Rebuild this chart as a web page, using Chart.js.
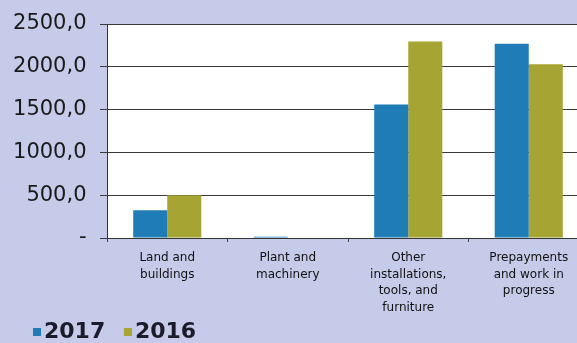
<!DOCTYPE html>
<html>
<head>
<meta charset="utf-8">
<script src="https://cdn.jsdelivr.net/npm/chart.js@4.4.0/dist/chart.umd.min.js"></script>
<style>
html,body{margin:0;padding:0;overflow:hidden;background:#c6cbe9;}
#wrap{width:600px;height:353px;}
</style>
</head>
<body>
<div id="wrap"><canvas id="c" width="600" height="353"></canvas></div>
<script>
const categories = [
  ['Land and','buildings'],
  ['Plant and','machinery'],
  ['Other','installations,','tools, and','furniture'],
  ['Prepayments','and work in','progress']
];
const series2017 = [325, 15, 1560, 2270];
const series2016 = [500, 0, 2295, 2030];
const seriesNames = ['2017', '2016'];
const seriesColors = ['#1f7cb6', '#a6a432'];
const yTickValues = [0, 500, 1000, 1500, 2000, 2500];
const yTickLabels = ['-', '500,0', '1000,0', '1500,0', '2000,0', '2500,0'];

function makeSwatch(color) {
  const cv = document.createElement('canvas');
  cv.width = 17; cv.height = 8;
  const g = cv.getContext('2d');
  g.fillStyle = color;
  g.fillRect(9, 0, 8, 8);
  return cv;
}
const swatches = seriesColors.map(makeSwatch);

const plotBg = {
  id: 'plotBg',
  afterLayout(chart) {
    if (chart.legend) { chart.legend.left += 10; }
  },
  beforeDraw(chart) {
    const {ctx, chartArea: a} = chart;
    ctx.save();
    ctx.fillStyle = '#ffffff';
    ctx.fillRect(a.left, a.top, a.right - a.left, a.bottom - a.top);
    ctx.restore();
  }
};

new Chart(document.getElementById('c'), {
  type: 'bar',
  data: {
    labels: categories,
    datasets: [
      { label: seriesNames[0], data: series2017, backgroundColor: seriesColors[0], borderWidth: 0 },
      { label: seriesNames[1], data: series2016, backgroundColor: seriesColors[1], borderWidth: 0 }
    ]
  },
  options: {
    responsive: false,
    animation: false,
    devicePixelRatio: 1,
    layout: { padding: { left: 12, right: 11, top: 20, bottom: 0 } },
    datasets: { bar: { categoryPercentage: 0.565, barPercentage: 1 } },
    plugins: {
      tooltip: { enabled: false },
      legend: {
        position: 'bottom',
        align: 'start',
        labels: {
          usePointStyle: true,
          boxWidth: 1,
          boxHeight: 8,
          padding: 10,
          color: '#1b1b2a',
          font: { family: 'DejaVu Sans', size: 22, weight: 'bold' },
          generateLabels(ch) {
            const items = Chart.defaults.plugins.legend.labels.generateLabels(ch);
            items.forEach((it, i) => {
              it.text = it.text + '\u00a0';
              it.pointStyle = swatches[i];
              it.lineWidth = 0;
            });
            return items;
          }
        }
      }
    },
    scales: {
      x: {
        offset: true,
        border: { display: true, color: '#333', width: 1 },
        grid: { display: true, drawOnChartArea: false, drawTicks: true, tickLength: 4, color: '#444', offset: true },
        ticks: {
          padding: 8,
          color: '#111',
          maxRotation: 0,
          autoSkip: false,
          font: { family: 'DejaVu Sans', size: 12, lineHeight: 1.375 }
        },
        afterFit(scale) { scale.height = 73; }
      },
      y: {
        min: 0,
        max: 2500,
        afterBuildTicks(scale) { scale.ticks = yTickValues.map(v => ({ value: v })); },
        border: { display: true, color: '#333', width: 1 },
        grid: { color: '#3a3a3a', lineWidth: 1, tickLength: 7 },
        ticks: {
          padding: 13.5,
          color: '#1a1a1a',
          font: { family: 'DejaVu Sans', size: 21, lineHeight: 1 },
          callback(value) {
            const i = yTickValues.indexOf(value);
            return i >= 0 ? yTickLabels[i] : '';
          }
        },
        afterFit(scale) { scale.width = 95; }
      }
    }
  },
  plugins: [plotBg]
});
</script>
</body>
</html>
